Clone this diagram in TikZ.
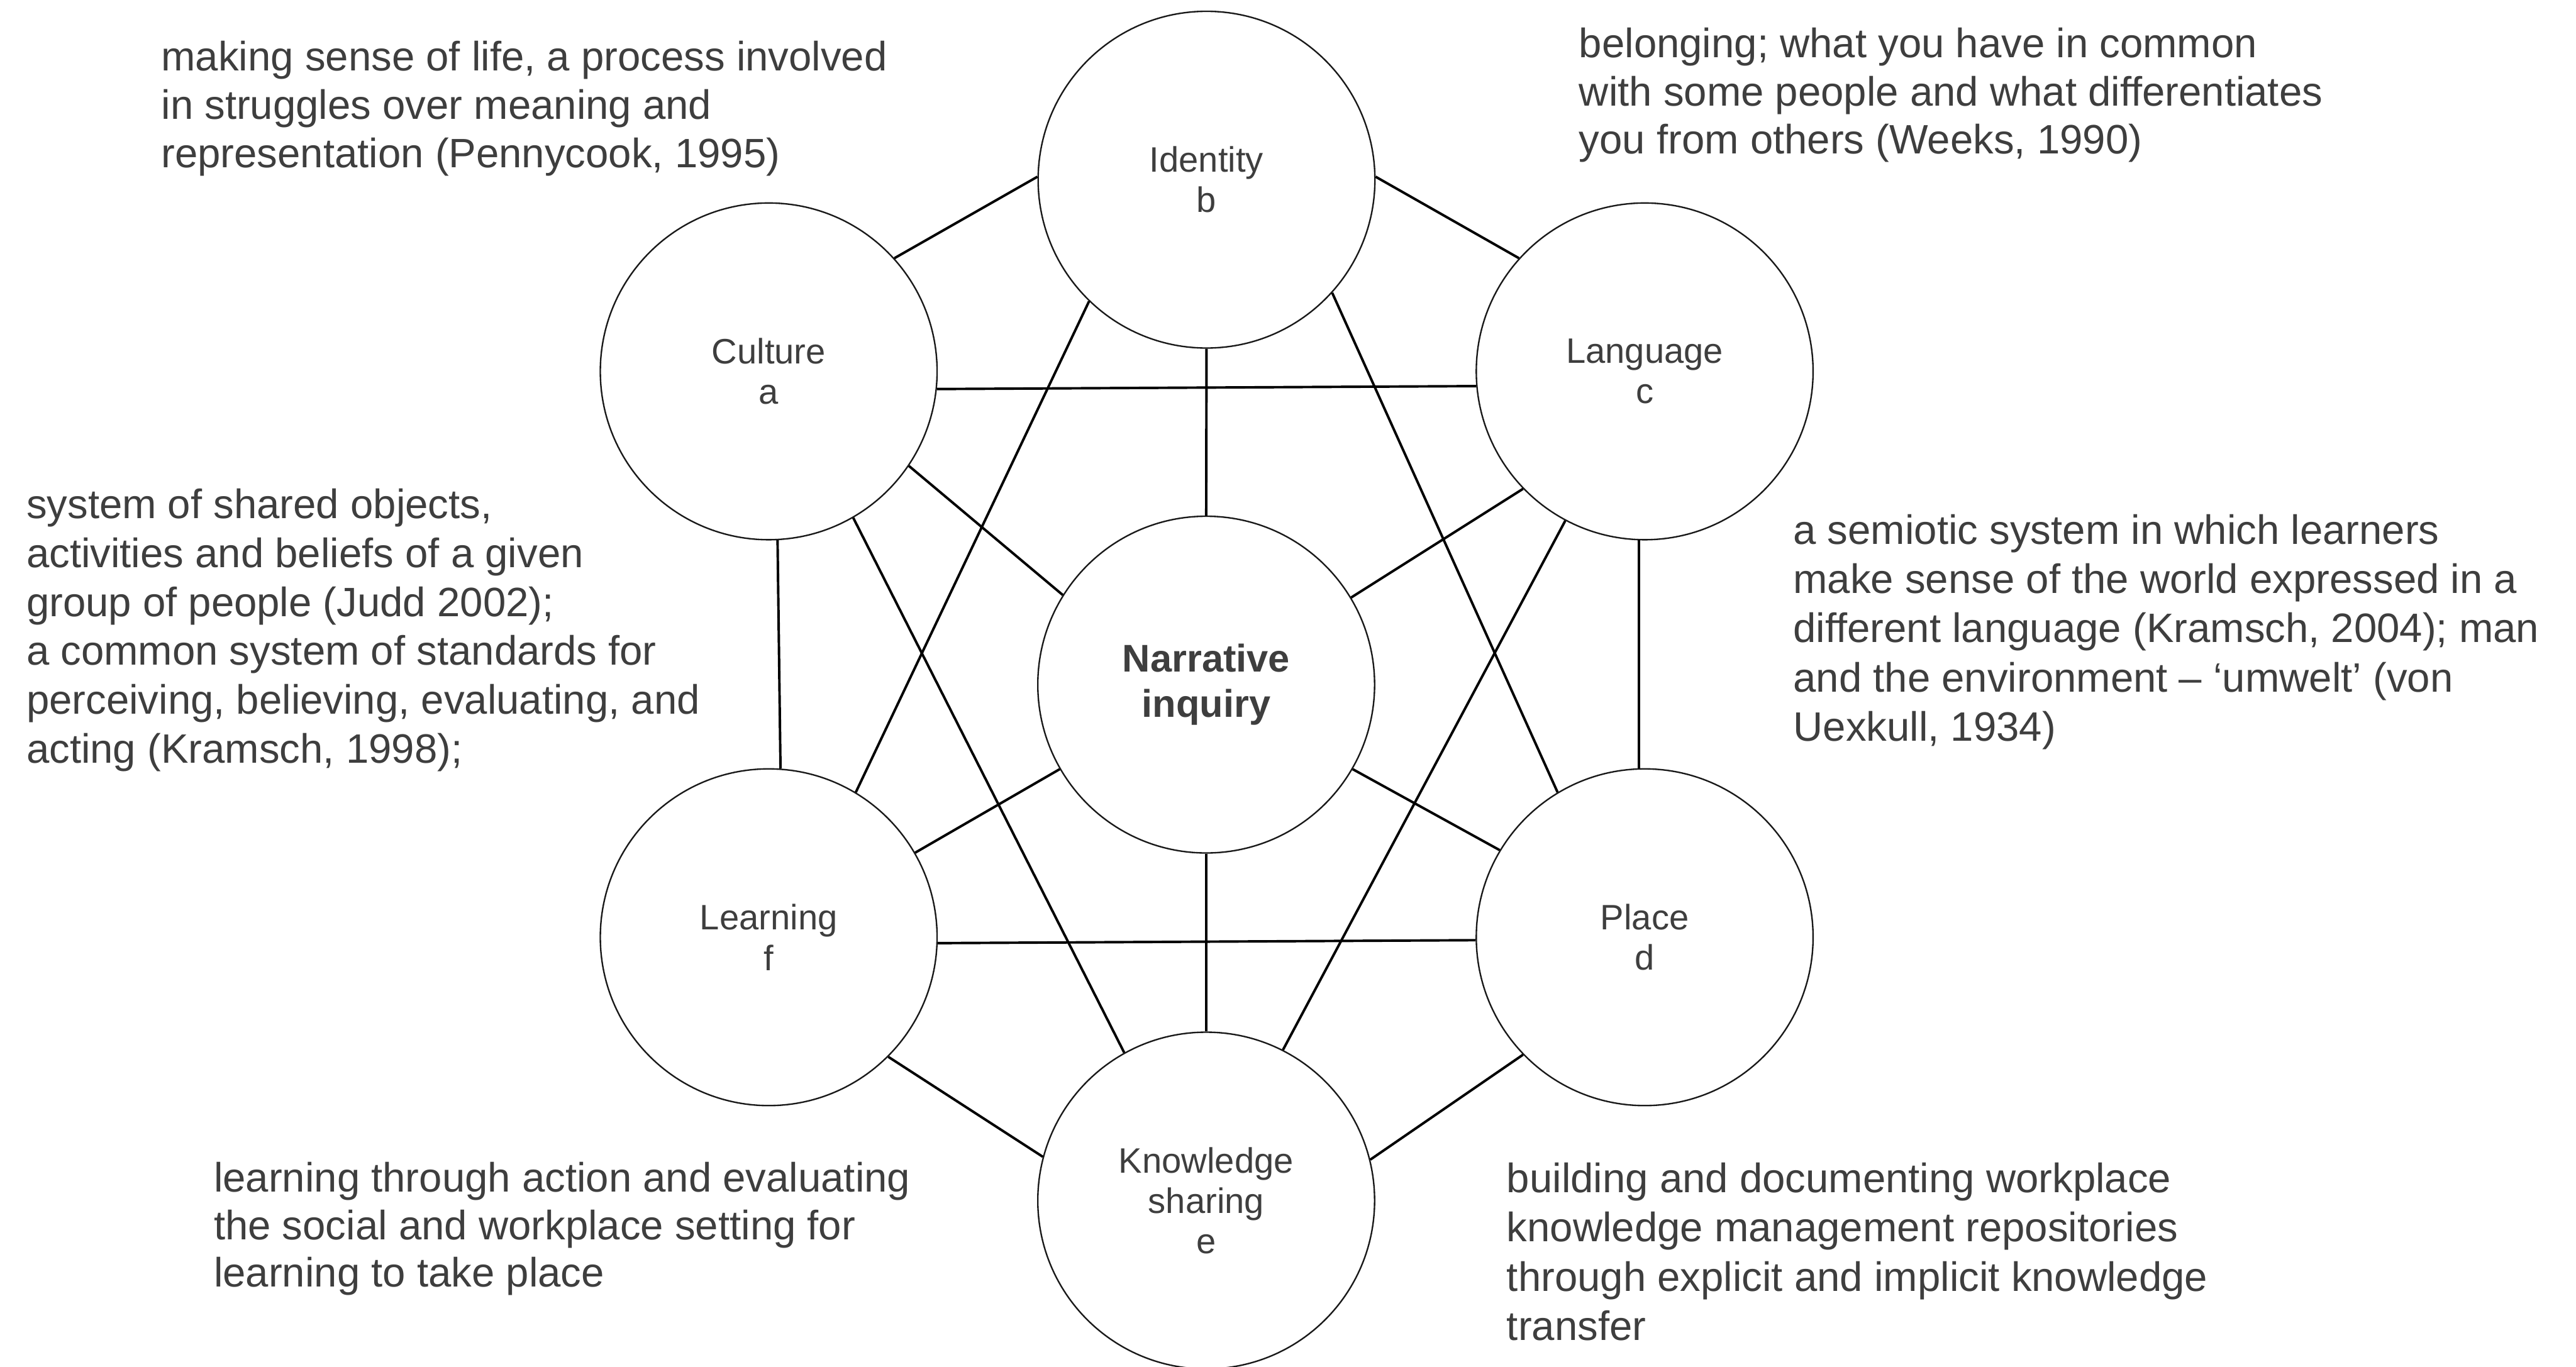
\documentclass[tikz,border=0pt]{standalone}
\usepackage{fontspec}
\setmainfont{Liberation Sans}
\definecolor{ink}{HTML}{3E3E3E}
\tikzset{
  topic/.style={circle, draw=black!90, line width=0.9pt, minimum size=205pt,
    inner sep=0pt, align=center, text=ink, font=\fontsize{21.5}{24.6}\selectfont},
  note/.style={anchor=base west, align=left, inner sep=0pt, text=ink,
    font=\fontsize{25}{29.4}\selectfont},
}
\begin{document}
\begin{tikzpicture}[x=1pt,y=1pt]
      \useasboundingbox (0,0) rectangle (1568,832);
      \draw
        (467.9,605.9) node[topic] (a){Culture\\a}
        (734.4,722.6) node[topic] (b){Identity\\b}
        (1001.1,605.9) node[topic] (c){Language\\c}
        (1001.1,261.4) node[topic] (d){Place\\d}
        (734.2,101.1) node[topic] (e){Knowledge\\sharing\\e}
        (467.9,261.4) node[topic] (f){Learning\\f}
        (734.2,415.2) node[topic, font=\fontsize{23.5}{27.5}\selectfont\bfseries] (n){Narrative\\inquiry};
      \begin{scope}[line width=1.5pt]
        \draw (a.42) to (b.179);
        \draw (b.1) to (c.138);
        \draw (a.354.6) to (c.185.3);
        \draw (a.273.5) to (f.86.5);
        \draw (a.326.4) to (n.148);
        \draw (a.300.6) to (e.119.7);
        \draw (b.270) to (n.90);
        \draw (b.226) to (f.59);
        \draw (b.318.4) to (d.121);
        \draw (c.224.2) to (n.31.8);
        \draw (c.242.3) to (e.63.9);
        \draw (c.268) to (d.92);
        \draw (f.30.2) to (n.210.3);
        \draw (f.358.2) to (d.181.8);
        \draw (f.315.8) to (e.165.2);
        \draw (n.330) to (d.149.8);
        \draw (n.270) to (e.90);
        \draw (e.14.8) to (d.224.2);
      \end{scope}
      % definitions around the ring (placed by the baseline of the last line)
      \node[note] (na) at (98,730) {making sense of life, a process involved\\in struggles over meaning and\\representation (Pennycook, 1995)};
      \node[note] (nb) at (961,738.2) {belonging; what you have in common\\with some people and what differentiates\\you from others (Weeks, 1990)};
      \node[note, font=\fontsize{25}{29.8}\selectfont] (nc) at (15.9,367.4) {system of shared objects,\\activities and beliefs of a given\\group of people (Judd 2002);\\a common system of standards for\\perceiving, believing, evaluating, and\\acting (Kramsch, 1998);};
      \node[note, font=\fontsize{25}{30}\selectfont] (nd) at (1091.4,380.8) {a semiotic system in which learners\\make sense of the world expressed in a\\different language (Kramsch, 2004); man\\and the environment – ‘umwelt’ (von\\Uexkull, 1934)};
      \node[note, font=\fontsize{25}{28.8}\selectfont] (ne) at (130,48.6) {learning through action and evaluating\\the social and workplace setting for\\learning to take place};
      \node[note, font=\fontsize{25}{30}\selectfont] (nf) at (917,16) {building and documenting workplace\\knowledge management repositories\\through explicit and implicit knowledge\\transfer};
    \end{tikzpicture}
\end{document}
